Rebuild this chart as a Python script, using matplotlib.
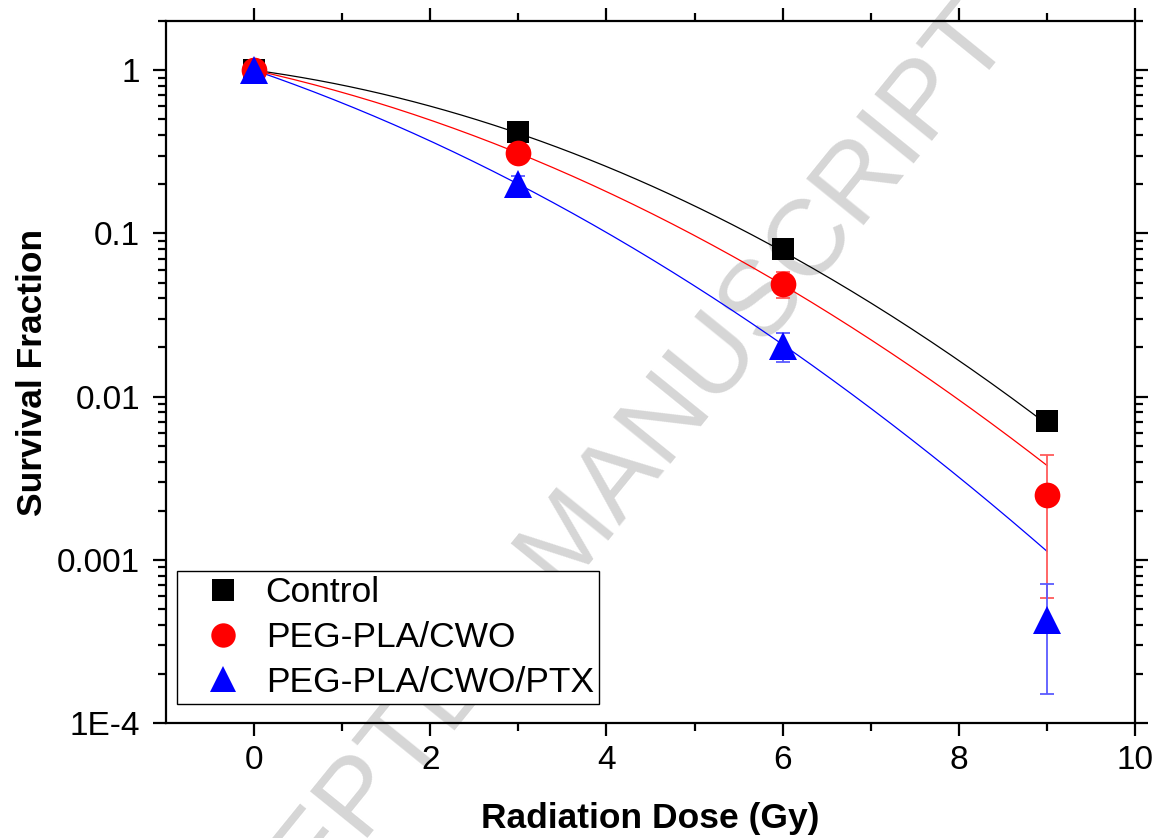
import numpy as np
import matplotlib
matplotlib.use("Agg")
import matplotlib.pyplot as plt
from matplotlib.ticker import FixedLocator, FixedFormatter, LogLocator, NullFormatter

plt.rcParams['font.family'] = ['Liberation Sans', 'DejaVu Sans']

# ---- data ----
dose = [0, 3, 6, 9]
control = [1.0, 0.42, 0.080, 0.0071]
control_err = [0.0, 0.0, 0.0, 0.0]
cwo = [1.0, 0.31, 0.049, 0.00248]
cwo_err = [0.03, 0.03, 0.009, 0.0019]
ptx = [1.0, 0.20, 0.0205, 0.00043]
ptx_err = [0.05, 0.025, 0.0042, 0.00028]

labels = ["Control", "PEG-PLA/CWO", "PEG-PLA/CWO/PTX"]
# linear-quadratic fit parameters (alpha, beta)
fit_alpha = [0.168, 0.2757, 0.4273]
fit_beta = [0.043, 0.0382, 0.0363]

x_ticks = [0, 2, 4, 6, 8, 10]
x_minor = [1, 3, 5, 7, 9]
y_ticks = [1e-4, 1e-3, 1e-2, 1e-1, 1]
y_ticklabels = ["1E-4", "0.001", "0.01", "0.1", "1"]

watermark = "ACCEPTED MANUSCRIPT"

# ---- figure ----
fig = plt.figure(figsize=(11.58, 8.38), dpi=100)
ax = fig.add_axes([0.1434, 0.1372, 0.8367, 0.8377])
ax.set_facecolor('none')

ax.text(0.494, 0.354, watermark, rotation=51, fontsize=78, color='#d6d6d6',
        ha='center', va='center', zorder=1, transform=fig.transFigure,
        clip_on=False)

colors = ['black', 'red', 'blue']
err_colors = ['#555555', '#ff5a5a', '#5a5aff']
markers = ['s', 'o', '^']
msizes = [16.5, 18.5, 20]
series = [control, cwo, ptx]
errs = [control_err, cwo_err, ptx_err]

xs = np.linspace(0, 9, 200)
for a, b, c in zip(fit_alpha, fit_beta, colors):
    ax.plot(xs, np.exp(-(a * xs + b * xs ** 2)), color=c, lw=0.9, zorder=2)

handles = []
for y, e, c, ec, m, ms, lab in zip(series, errs, colors, err_colors, markers, msizes, labels):
    ax.errorbar(dose, y, yerr=e, fmt='none', ecolor=ec, elinewidth=1.3,
                capsize=4.7, capthick=1.3, zorder=3)
    h, = ax.plot(dose, y, linestyle='none', marker=m, ms=ms, color=c,
                 markeredgewidth=0, zorder=4, label=lab)
    handles.append(h)

ax.set_yscale('log')
ax.set_xlim(-1, 10)
ax.set_ylim(1e-4, 2.0)

ax.xaxis.set_major_locator(FixedLocator(x_ticks))
ax.xaxis.set_minor_locator(FixedLocator(x_minor))
ax.yaxis.set_major_locator(FixedLocator(y_ticks))
ax.yaxis.set_major_formatter(FixedFormatter(y_ticklabels))
ax.yaxis.set_minor_locator(LogLocator(base=10, subs=np.arange(2, 10), numticks=20))
ax.yaxis.set_minor_formatter(NullFormatter())

for s in ax.spines.values():
    s.set_linewidth(1.6)

ax.tick_params(which='major', direction='out', length=9.5, width=1.6,
               labelsize=24, top=True, right=True, pad=6)
ax.tick_params(which='minor', direction='out', length=5.5, width=1.6,
               top=True, right=True)
ax.tick_params(axis='y', which='major', pad=9)

ax.set_xlabel("Radiation Dose (Gy)", fontsize=25.5, fontweight='bold', labelpad=19)
ax.set_ylabel("Survival Fraction", fontsize=25.5, fontweight='bold', labelpad=6)

leg = ax.legend(handles=handles, loc='lower left', bbox_to_anchor=(0.0114, 0.027),
                borderaxespad=0, fontsize=25.5, frameon=True, fancybox=False,
                edgecolor='black', framealpha=1, handlelength=2.3,
                handletextpad=0.05, labelspacing=0.33, borderpad=0.15,
                markerscale=0.95)
leg.get_frame().set_linewidth(1.0)
leg.set_zorder(6)

fig.savefig("out.png", dpi=100)
